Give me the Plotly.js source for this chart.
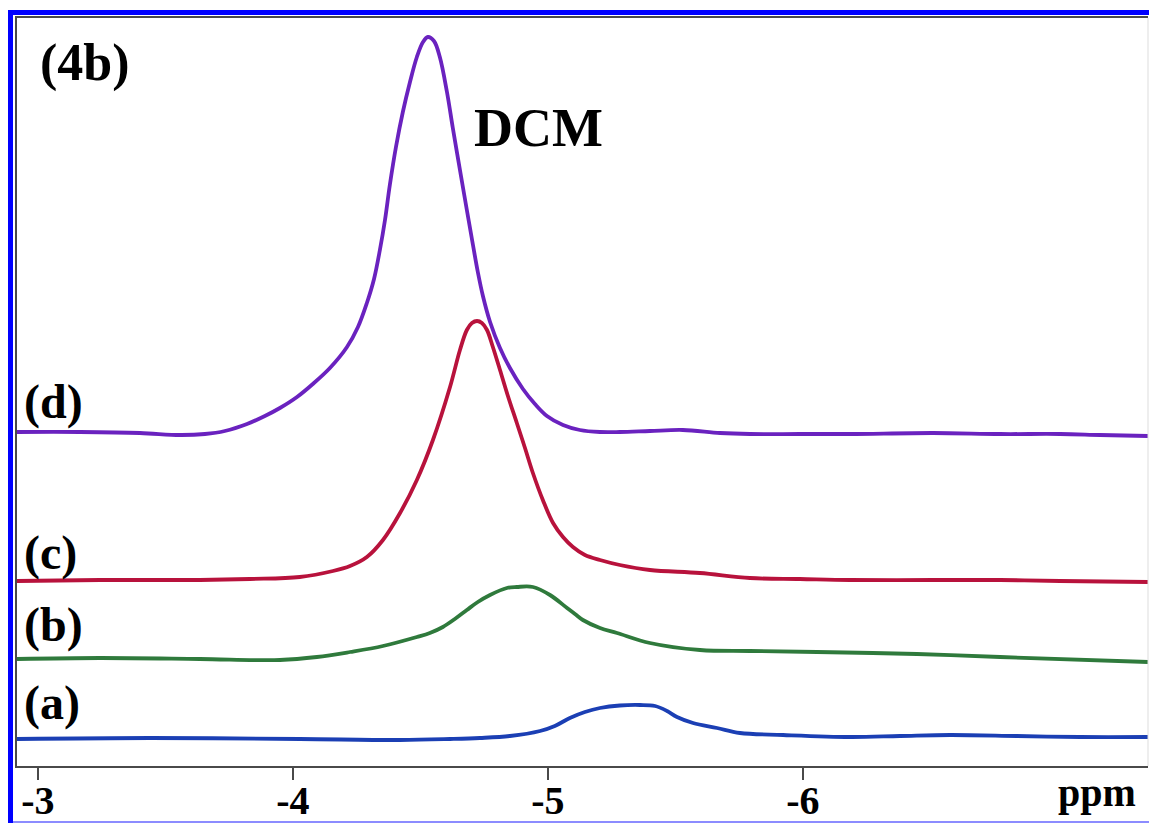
<!DOCTYPE html>
<html>
<head>
<meta charset="utf-8">
<script src="https://cdn.plot.ly/plotly-3.0.1.min.js"></script>
<style>
  html, body { margin: 0; padding: 0; background: #ffffff; overflow: hidden; }
  #wrap { position: relative; width: 1149px; height: 823px; }
  #chart { position: absolute; left: 0; top: 0; width: 1149px; height: 823px; }
  #frameL { position: absolute; left: 8px; top: 10px; width: 5px; height: 813px; background: #0000ff; }
  #frameT { position: absolute; left: 8px; top: 10px; width: 1141px; height: 5px; background: #0000ff; }
  #frameB { position: absolute; left: 13px; top: 821px; width: 1136px; height: 2px; background: #8c8cff; }
</style>
</head>
<body>
<div id="wrap">
  <div id="chart"></div>
  <div id="frameL"></div>
  <div id="frameT"></div>
  <div id="frameB"></div>
</div>
<script>
// Chemical shift (ppm) and intensity (a.u., stacked)
const ppm_a = [-2.918,-3.439,-4.027,-4.420,-4.616,-4.733,-4.851,-4.969,-5.027,-5.086,-5.145,-5.204,-5.282,-5.361,-5.420,-5.467,-5.506,-5.569,-5.663,-5.753,-5.922,-6.184,-6.380,-6.577,-6.839,-7.086,-7.353];
const int_a = [27,28,27,26,27,28,30,35,40,48,54,58,60.5,61,60,55,49,43,38,33,31,29,30,31,30,29,29];

const ppm_b = [-2.918,-3.243,-3.635,-3.949,-4.094,-4.224,-4.353,-4.486,-4.537,-4.588,-4.635,-4.682,-4.725,-4.773,-4.839,-4.878,-4.941,-5.008,-5.075,-5.106,-5.137,-5.204,-5.271,-5.400,-5.596,-5.792,-6.055,-6.447,-6.773,-7.353];
const int_b = [107,108,107,106,109,114,120,129,133,139,147,156,164,171,178,179,179,171,158,152,146,138,133,123,116,115,114,112,109,104];

const ppm_c = [-2.918,-3.243,-3.635,-3.831,-4.027,-4.157,-4.224,-4.290,-4.353,-4.420,-4.486,-4.549,-4.616,-4.655,-4.682,-4.702,-4.722,-4.741,-4.761,-4.784,-4.812,-4.843,-4.878,-4.910,-4.941,-4.980,-5.020,-5.059,-5.098,-5.145,-5.204,-5.282,-5.400,-5.596,-5.792,-5.988,-6.184,-6.510,-6.773,-7.008,-7.353];
const int_c = [185,186,186,187,189,195,200,209,226,253,286,326,379,416,436,443,445,443,436,419,396,370,343,318,293,266,243,229,219,211,206,201,196,193,188,187,186,186,186,185,184];

const ppm_d = [-2.918,-3.165,-3.400,-3.557,-3.655,-3.733,-3.820,-3.890,-3.949,-4.016,-4.078,-4.145,-4.212,-4.255,-4.290,-4.318,-4.341,-4.361,-4.380,-4.404,-4.431,-4.459,-4.486,-4.510,-4.529,-4.553,-4.576,-4.604,-4.627,-4.655,-4.682,-4.706,-4.725,-4.745,-4.773,-4.812,-4.851,-4.902,-4.949,-4.996,-5.059,-5.125,-5.204,-5.282,-5.400,-5.529,-5.675,-5.792,-5.988,-6.184,-6.510,-6.773,-7.008,-7.165,-7.353];
const int_d = [334,334,333,331,332,335,342,350,358,369,382,398,419,439,463,487,516,546,581,619,654,684,709,724,729,725,709,674,638,596,556,521,494,470,444,418,398,377,362,350,341,336,334,334,335,336,333,332,332,332,333,332,332,331,330];

const tickVals = [-3, -4, -5, -6];
const tickText = ["-3", "-4", "-5", "-6"];
const seriesLabels = ["(a)", "(b)", "(c)", "(d)"];
const panelLabel = "(4b)";
const peakLabel = "DCM";
const unitLabel = "ppm";

const colors = ["#1b3fb4", "#2f7a3c", "#b8123c", "#6a22bf"];
const series = [[ppm_a, int_a], [ppm_b, int_b], [ppm_c, int_c], [ppm_d, int_d]];

const traces = series.map((s, i) => ({
  x: s[0], y: s[1], type: "scatter", mode: "lines",
  line: { color: colors[i], width: 3.8, shape: "spline", smoothing: 1 },
  hoverinfo: "skip", showlegend: false
}));

const serif = "Liberation Serif, Times New Roman, serif";
const labelPos = [[0.0044, 0.084], [0.0044, 0.189], [0.0044, 0.285], [0.0044, 0.486]];
const annotations = seriesLabels.map((t, i) => ({
  text: t, xref: "paper", yref: "paper", x: labelPos[i][0], y: labelPos[i][1],
  xanchor: "left", yanchor: "middle", showarrow: false,
  font: { family: serif, size: 48, color: "#000", weight: "bold" }
}));
annotations.push({
  text: panelLabel, xref: "paper", yref: "paper", x: 0.019, y: 0.94,
  xanchor: "left", yanchor: "middle", showarrow: false,
  font: { family: serif, size: 52, color: "#000", weight: "bold" }
});
annotations.push({
  text: peakLabel, xref: "paper", yref: "paper", x: 0.402, y: 0.853,
  xanchor: "left", yanchor: "middle", showarrow: false,
  font: { family: serif, size: 54, color: "#000", weight: "bold" }
});
annotations.push({
  text: unitLabel, xref: "paper", yref: "paper", x: 0.955, y: -0.036,
  xanchor: "center", yanchor: "middle", showarrow: false,
  font: { family: serif, size: 40, color: "#000", weight: "bold" }
});

const layout = {
  width: 1149, height: 823,
  margin: { l: 17, r: 1, t: 18, b: 57, pad: 0 },
  paper_bgcolor: "#ffffff", plot_bgcolor: "#ffffff",
  xaxis: {
    range: [-2.918, -7.353], autorange: false,
    showline: true, linecolor: "#4a4a4a", linewidth: 2, mirror: true,
    ticks: "outside", ticklen: 12, tickwidth: 2, tickcolor: "#4a4a4a",
    tickvals: tickVals, ticktext: tickText, ticklabelstandoff: -14,
    tickfont: { family: serif, size: 40, color: "#000", weight: "bold" },
    showgrid: false, zeroline: false
  },
  yaxis: {
    range: [0, 748], autorange: false,
    showline: true, linecolor: "#4a4a4a", linewidth: 2, mirror: false,
    ticks: "", showticklabels: false, showgrid: false, zeroline: false
  },
  shapes: [{
    type: "line", xref: "paper", yref: "paper", x0: 1, x1: 1, y0: 0, y1: 1,
    line: { color: "#dddddd", width: 1 }
  }],
  annotations: annotations
};

Plotly.newPlot("chart", traces, layout, { staticPlot: true, displayModeBar: false });
</script>
</body>
</html>
